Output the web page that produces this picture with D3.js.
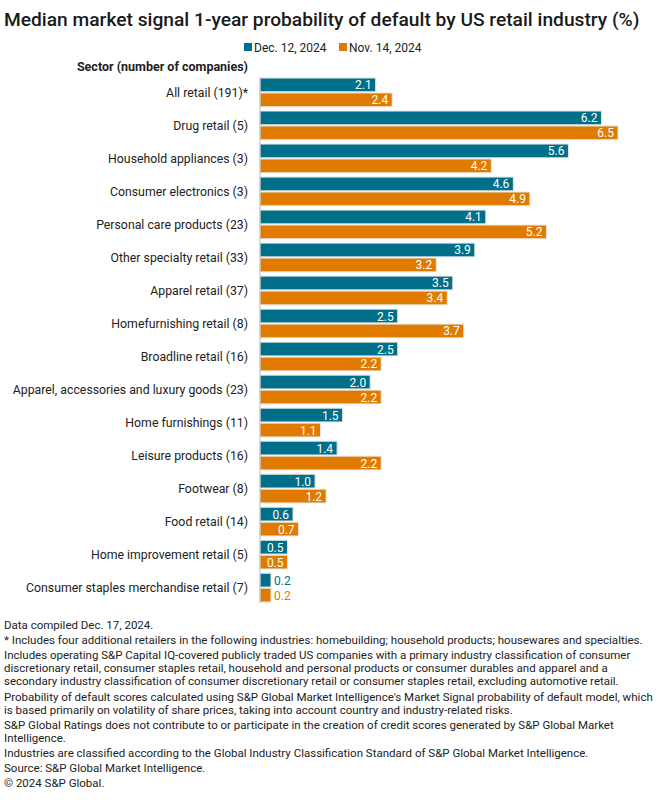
<!DOCTYPE html>
<html>
<head>
<meta charset="utf-8">
<script src="https://cdn.jsdelivr.net/npm/d3@7"></script>
<style>
  body { margin: 0; background: #fff; }
  text { font-family: Roboto, "Noto Sans", sans-serif; }
</style>
</head>
<body>
<div id="chart"></div>
<script>
// data
const sectors = [
  "All retail (191)*", "Drug retail (5)", "Household appliances (3)",
  "Consumer electronics (3)", "Personal care products (23)",
  "Other specialty retail (33)", "Apparel retail (37)",
  "Homefurnishing retail (8)", "Broadline retail (16)",
  "Apparel, accessories and luxury goods (23)", "Home furnishings (11)",
  "Leisure products (16)", "Footwear (8)", "Food retail (14)",
  "Home improvement retail (5)", "Consumer staples merchandise retail (7)"
];
const dec12 = [2.1, 6.2, 5.6, 4.6, 4.1, 3.9, 3.5, 2.5, 2.5, 2.0, 1.5, 1.4, 1.0, 0.6, 0.5, 0.2];
const nov14 = [2.4, 6.5, 4.2, 4.9, 5.2, 3.2, 3.4, 3.7, 2.2, 2.2, 1.1, 2.2, 1.2, 0.7, 0.5, 0.2];
const seriesNames = ["Dec. 12, 2024", "Nov. 14, 2024"];
const colors = ["#006f89", "#e07b00"];

const notes = [
  ["Data compiled Dec. 17, 2024."],
  ["* Includes four additional retailers in the following industries: homebuilding; household products; housewares and specialties."],
  ["Includes operating S&P Capital IQ-covered publicly traded US companies with a primary industry classification of consumer",
   "discretionary retail, consumer staples retail, household and personal products or consumer durables and apparel and a",
   "secondary industry classification of consumer discretionary retail or consumer staples retail, excluding automotive retail."],
  ["Probability of default scores calculated using S&P Global Market Intelligence's Market Signal probability of default model, which",
   "is based primarily on volatility of share prices, taking into account country and industry-related risks."],
  ["S&P Global Ratings does not contribute to or participate in the creation of credit scores generated by S&P Global Market",
   "Intelligence."],
  ["Industries are classified according to the Global Industry Classification Standard of S&P Global Market Intelligence."],
  ["Source: S&P Global Market Intelligence."],
  ["\u00a9 2024 S&P Global."]
];

var svgWidth = 660, svgHeight = 800;
var svg = d3.select("#chart").append("svg")
  .attr("width", svgWidth).attr("height", svgHeight);

// title
svg.append("text")
  .attr("x", 4).attr("y", 26)
  .attr("font-size", 19.2).attr("font-weight", 500).attr("fill", "#1a1a1a")
  .text("Median market signal 1-year probability of default by US retail industry (%)");

// legend
var legend = svg.append("g").attr("transform", "translate(244, 47)");
var lx = 0;
seriesNames.forEach((s, i) => {
  var g = legend.append("g").attr("transform", `translate(${lx},0)`);
  g.append("rect").attr("x", 0).attr("y", -4).attr("width", 8).attr("height", 8).attr("fill", colors[i]);
  g.append("text").attr("x", 10).attr("y", 4.5).attr("font-size", 12).attr("fill", "#222").text(s);
  lx += 95;
});

// plot area
var x0 = 260, yTop = 77, yBot = 603;
var xScale = d3.scaleLinear().domain([0, 6.5]).range([x0, 618]);
var yScale = d3.scaleBand().domain(sectors).range([yTop, yBot]).paddingInner(0.13).paddingOuter(0.03);
var sub = d3.scaleBand().domain([0, 1]).range([0, yScale.bandwidth()]).paddingInner(0.08);

svg.append("text")
  .attr("x", 248).attr("y", 71).attr("text-anchor", "end")
  .attr("font-size", 12.5).attr("font-weight", 700).attr("fill", "#222")
  .text("Sector (number of companies)");

var groups = svg.selectAll("g.row").data(sectors).enter().append("g")
  .attr("class", "row")
  .attr("transform", d => `translate(0,${yScale(d)})`);

groups.append("text")
  .attr("x", 248).attr("y", yScale.bandwidth() / 2 + 4.5)
  .attr("text-anchor", "end").attr("font-size", 12.3).attr("fill", "#222")
  .text(d => d);

[dec12, nov14].forEach((vals, si) => {
  groups.append("rect")
    .attr("x", x0)
    .attr("y", sub(si))
    .attr("width", (d, i) => xScale(vals[i]) - x0)
    .attr("height", sub.bandwidth())
    .attr("fill", colors[si])
    .attr("stroke", "#e6e6e6").attr("stroke-width", 1);

  groups.append("text")
    .attr("x", (d, i) => vals[i] < 0.4 ? xScale(vals[i]) + 3 : xScale(vals[i]) - 4)
    .attr("y", sub(si) + sub.bandwidth() / 2 + 4.5)
    .attr("text-anchor", (d, i) => vals[i] < 0.4 ? "start" : "end")
    .attr("font-size", 12)
    .attr("fill", (d, i) => vals[i] < 0.4 ? colors[si] : "#fff")
    .text((d, i) => d3.format(".1f")(vals[i]));
});

// axis line
svg.append("line")
  .attr("x1", x0).attr("x2", x0).attr("y1", yTop).attr("y2", yBot)
  .attr("stroke", "#bbb").attr("stroke-width", 1);

// footnotes
var ny = 629;
var foot = svg.append("g");
notes.forEach(p => {
  p.forEach((line, j) => {
    foot.append("text").attr("x", 4).attr("y", ny)
      .attr("font-size", 11.5).attr("fill", "#222").text(line);
    ny += 13;
  });
  ny += 2.2;
});
</script>
</body>
</html>
